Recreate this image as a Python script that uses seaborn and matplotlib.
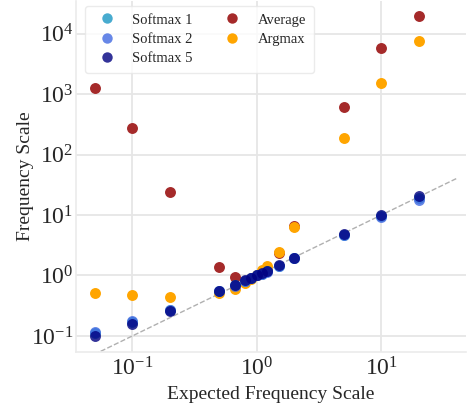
import numpy as np
import pandas as pd
import matplotlib
matplotlib.use("Agg")
import matplotlib.pyplot as plt
import seaborn as sns

expected = [0.05, 0.1, 0.2, 0.5, 0.667, 0.8, 0.9, 1.0, 1.1, 1.2, 1.5, 2.0, 5.0, 10.0, 20.0]
softmax1 = [0.11, 0.17, 0.27, 0.555, 0.685, 0.82, 0.91, 1.0, 1.07, 1.17, 1.45, 1.93, 4.75, 9.6, 19.0]
softmax2 = [0.116, 0.175, 0.273, 0.56, 0.68, 0.82, 0.91, 1.0, 1.07, 1.16, 1.44, 1.92, 4.7, 9.3, 18.0]
softmax5 = [0.098, 0.156, 0.256, 0.55, 0.69, 0.83, 0.92, 1.0, 1.08, 1.18, 1.47, 1.94, 4.84, 10.1, 20.5]
average = [1260, 275, 24, 1.36, 0.96, 0.82, 0.9, 1.0, 1.1, 1.25, 2.35, 6.6, 610, 5750, 19900]
argmax = [0.52, 0.47, 0.44, 0.51, 0.6, 0.76, 0.88, 1.0, 1.22, 1.42, 2.46, 6.4, 185, 1540, 7630]

series = {
    "Average": average,
    "Argmax": argmax,
    "Softmax 1": softmax1,
    "Softmax 2": softmax2,
    "Softmax 5": softmax5,
}
colors = {
    "Softmax 1": "#1a96c4",
    "Softmax 2": "#4169E1",
    "Softmax 5": "#000080",
    "Average": "#A52A2A",
    "Argmax": "#FFA500",
}
alphas = {"Softmax 1": 0.8, "Softmax 2": 0.8, "Softmax 5": 0.8, "Average": 1.0, "Argmax": 1.0}
legend_order = ["Softmax 1", "Softmax 2", "Softmax 5", "Average", "Argmax"]

sns.set_style("white")
plt.rcParams["font.family"] = ["Liberation Serif", "DejaVu Serif"]
plt.rcParams["mathtext.fontset"] = "stix"

fig = plt.figure(figsize=(4.67, 4.08), dpi=100)
ax = fig.add_axes([0.163, 0.137, 0.835, 0.861])

ax.plot([0.01, 40], [0.01, 40], ls="--", color="#b0b0b0", lw=1.0, zorder=1)

handles = {}
for name, vals in series.items():
    df = pd.DataFrame({"x": expected, "y": vals})
    sns.scatterplot(data=df, x="x", y="y", ax=ax, color=colors[name], alpha=alphas[name],
                    s=62, linewidth=0, zorder=3)
    handles[name] = plt.Line2D([], [], marker="o", ls="", color=colors[name],
                               alpha=alphas[name], markersize=7.5, markeredgewidth=0)

ax.set_xscale("log")
ax.set_yscale("log")
ax.set_xlim(0.0353, 48)
ax.set_ylim(0.054, 3.5e4)

ax.grid(True, which="major", color="#e6e6e6", lw=1.3)
ax.set_axisbelow(True)
for side in ["top", "right"]:
    ax.spines[side].set_visible(False)
for side in ["left", "bottom"]:
    ax.spines[side].set_color("#ebebeb")
    ax.spines[side].set_linewidth(1.2)

ax.tick_params(axis="x", which="major", length=0, labelsize=17, pad=4)
ax.tick_params(axis="y", which="major", length=0, labelsize=17, pad=2)
ax.tick_params(axis="both", which="minor", length=2.5, color="#d8d8d8", width=0.8)

ax.set_xlabel("Expected Frequency Scale", fontsize=14)
ax.set_ylabel("Frequency Scale", fontsize=14, labelpad=-2)

ax.legend([handles[n] for n in legend_order], legend_order, ncol=2, loc="upper left",
          bbox_to_anchor=(0.023, 0.985), borderaxespad=0, fontsize=10.5, frameon=True,
          edgecolor="#e6e6e6", handletextpad=0.75, columnspacing=1.7, labelspacing=0.42,
          borderpad=0.5)

fig.savefig("out.png", dpi=100)
